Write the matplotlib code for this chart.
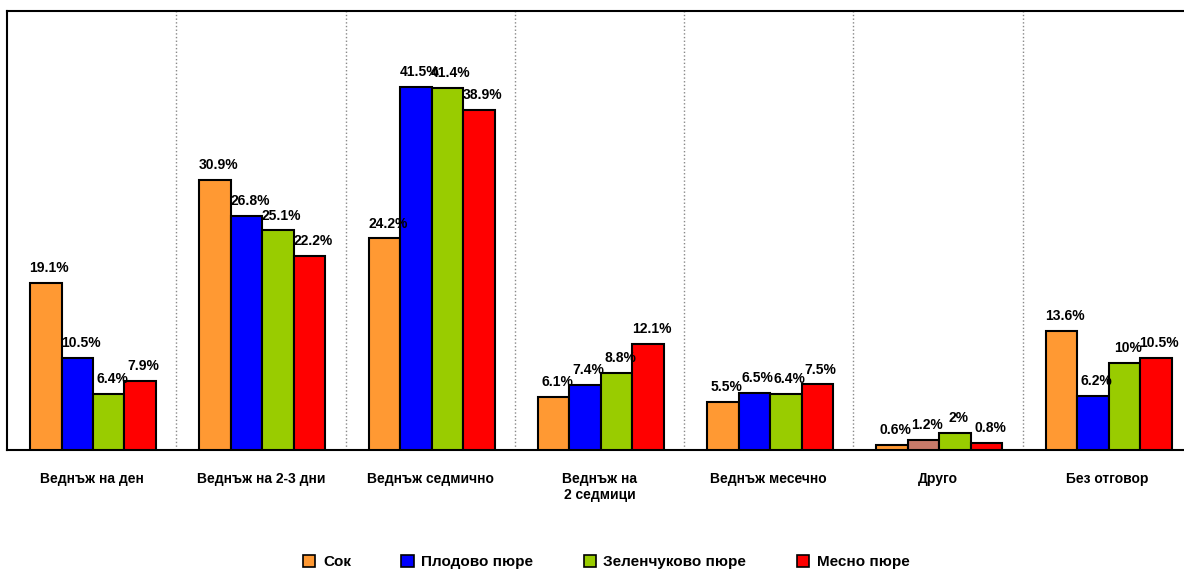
import matplotlib
matplotlib.use("Agg")
import matplotlib.pyplot as plt
import numpy as np
from matplotlib.patches import Patch

plt.rcParams['font.family'] = ['Liberation Sans', 'DejaVu Sans']

categories = ["Веднъж на ден", "Веднъж на 2-3 дни", "Веднъж седмично",
              "Веднъж на\n2 седмици", "Веднъж месечно", "Друго", "Без отговор"]
series_names = ["Сок", "Плодово пюре", "Зеленчуково пюре", "Месно пюре"]
sok = [19.1, 30.9, 24.2, 6.1, 5.5, 0.6, 13.6]
plodovo = [10.5, 26.8, 41.5, 7.4, 6.5, 1.2, 6.2]
zelenchukovo = [6.4, 25.1, 41.4, 8.8, 6.4, 2.0, 10.0]
mesno = [7.9, 22.2, 38.9, 12.1, 7.5, 0.8, 10.5]
label_texts = [
    ["19.1%", "30.9%", "24.2%", "6.1%", "5.5%", "0.6%", "13.6%"],
    ["10.5%", "26.8%", "41.5%", "7.4%", "6.5%", "1.2%", "6.2%"],
    ["6.4%", "25.1%", "41.4%", "8.8%", "6.4%", "2%", "10%"],
    ["7.9%", "22.2%", "38.9%", "12.1%", "7.5%", "0.8%", "10.5%"],
]
colors = ["#FF9933", "#0000FF", "#99CC00", "#FF0000"]
special_color = "#C87A6A"  # Плодово пюре in "Друго"

all_series = [sok, plodovo, zelenchukovo, mesno]

W, H = 1184, 572
fig = plt.figure(figsize=(W / 100, H / 100), dpi=100)
left, right, top, bottom = 7, 1192, 11, 450
ax = fig.add_axes([left / W, 1 - bottom / H, (right - left) / W, (bottom - top) / H])

n = len(categories)
x = np.arange(n)
bw = 0.186
for i, vals in enumerate(all_series):
    pos = x - 0.5 + 0.136 + bw * (i + 0.5)
    cols = [colors[i]] * n
    if i == 1:
        cols[5] = special_color
    ax.bar(pos, vals, width=bw, color=cols, edgecolor="black", linewidth=1.5, zorder=3)
    for p, v, t in zip(pos, vals, label_texts[i]):
        ax.text(p + 0.02, v + 0.9, t, ha="center", va="bottom", fontsize=10,
                fontweight="bold", zorder=4)

ax.set_xlim(-0.5, n - 0.5)
ax.set_ylim(0, 50.2)
for k in range(1, n):
    ax.axvline(k - 0.5, color="#888888", linestyle=":", linewidth=1, zorder=1)

ax.set_yticks([])
ax.set_xticks(x)
ax.set_xticklabels(categories, fontsize=10, fontweight="bold", va="top")
ax.tick_params(axis="x", length=0, pad=16)
ax.spines["right"].set_visible(False)
for s in ["left", "top", "bottom"]:
    ax.spines[s].set_linewidth(1.5)

handles = [Patch(facecolor=c, edgecolor="black", linewidth=1.2) for c in colors]
fig.legend(handles, series_names, loc="center", bbox_to_anchor=(0.512, 1 - 562 / H),
           ncol=4, frameon=False, prop={"size": 11, "weight": "bold"},
           handlelength=0.8, handleheight=0.8, handletextpad=0.5, columnspacing=3.3)

fig.savefig("out.png", dpi=100)
